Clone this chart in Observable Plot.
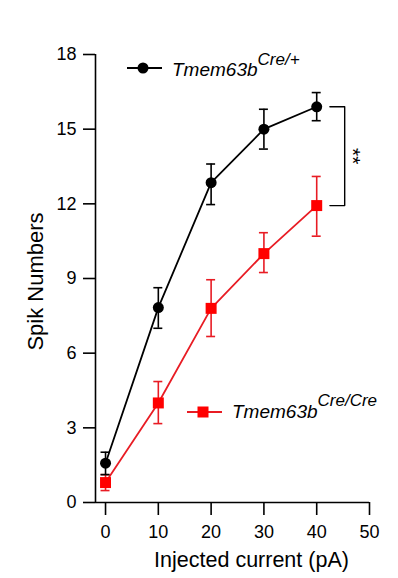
<!DOCTYPE html>
<html>
<head>
<meta charset="utf-8">
<script src="https://cdn.jsdelivr.net/npm/d3@7"></script>
<script src="https://cdn.jsdelivr.net/npm/@observablehq/plot@0.6"></script>
<style>
  html, body { margin: 0; padding: 0; background: white; }
</style>
</head>
<body>
<div id="chart"></div>
<script>
// ---- data ----
const currents = [0, 10, 20, 30, 40];
const ctrlMean  = [1.58, 7.83, 12.85, 15.0, 15.9];
const ctrlUpper = [2.02, 8.63, 13.6, 15.8, 16.47];
const ctrlLower = [1.12, 7.0, 11.97, 14.2, 15.34];
const koMean  = [0.8, 4.0, 7.8, 10.0, 11.93];
const koUpper = [1.12, 4.86, 8.95, 10.84, 13.1];
const koLower = [0.48, 3.17, 6.67, 9.24, 10.7];
const xTicks = [0, 10, 20, 30, 40, 50];
const yTicks = [0, 3, 6, 9, 12, 15, 18];
const xDomain = [-1.9, 50];
const yDomain = [0, 18];
const bracketX = [42.5, 45.3];
const starX = 47.3;
const ctrlName = "Tmem63b", ctrlSup = "Cre/+";
const koName = "Tmem63b", koSup = "Cre/Cre";

const black = "#000000";
const redLine = "#e81c24";
const redFill = "#ff0000";

const ctrl = currents.map((x, i) => ({x, y: ctrlMean[i], lo: ctrlLower[i], hi: ctrlUpper[i]}));
const ko = currents.map((x, i) => ({x, y: koMean[i], lo: koLower[i], hi: koUpper[i]}));
const cap = 0.85;

const last = currents.length - 1;
const bracket = [
  {x: bracketX[0], y: ctrlMean[last]},
  {x: bracketX[1], y: ctrlMean[last]},
  {x: bracketX[1], y: koMean[last]},
  {x: bracketX[0], y: koMean[last]}
];

function legend() {
  const g = d3.create("svg:g").attr("font-family", "Liberation Sans, Arial, sans-serif");
  const items = [
    {x0: 127, y: 68, name: ctrlName, sup: ctrlSup, color: black, fill: black, sym: "circle", tx: 172, base: 76, supBase: 65},
    {x0: 187, y: 412, name: koName, sup: koSup, color: redLine, fill: redFill, sym: "square", tx: 232, base: 418, supBase: 406}
  ];
  for (const it of items) {
    g.append("line").attr("x1", it.x0).attr("x2", it.x0 + 35).attr("y1", it.y).attr("y2", it.y)
      .attr("stroke", it.color).attr("stroke-width", 2);
    if (it.sym === "circle") {
      g.append("circle").attr("cx", it.x0 + 16).attr("cy", it.y).attr("r", 5.5).attr("fill", it.fill);
    } else {
      g.append("rect").attr("x", it.x0 + 16 - 5.5).attr("y", it.y - 5.5).attr("width", 11).attr("height", 11).attr("fill", it.fill);
    }
    const t = g.append("text").attr("x", it.tx).attr("y", it.base).attr("text-anchor", "start")
      .attr("font-style", "italic").attr("font-size", 19).attr("fill", "black");
    t.append("tspan").text(it.name);
    t.append("tspan").attr("dy", it.supBase - it.base).attr("font-size", 17).text(it.sup);
  }
  return g.node();
}

const chart = Plot.plot({
  width: 398,
  height: 578,
  marginLeft: 95,
  marginRight: 29,
  marginTop: 54,
  marginBottom: 76,
  style: {fontFamily: "Liberation Sans, Arial, sans-serif", background: "white", color: "black"},
  x: {domain: xDomain, axis: null},
  y: {domain: yDomain, axis: null},
  marks: [
    Plot.axisY(yTicks, {tickSize: 12, tickPadding: 7, fontSize: 18, label: null, strokeWidth: 1.6}),
    Plot.axisX(xTicks, {tickSize: 13, tickPadding: 10, fontSize: 18, label: null, strokeWidth: 1.6}),
    Plot.ruleX([xDomain[0]], {y1: yDomain[0], y2: yDomain[1], strokeWidth: 1.6}),
    Plot.ruleY([yDomain[0]], {x1: xDomain[0], x2: xTicks[xTicks.length - 1], strokeWidth: 1.6}),
    Plot.text(["Spik Numbers"], {frameAnchor: "left", dx: -60, dy: 3, rotate: -90, fontSize: 22, textAnchor: "middle", lineAnchor: "middle"}),
    Plot.text(["Injected current (pA)"], {frameAnchor: "bottom", dx: 19, dy: 58, fontSize: 21.5, textAnchor: "middle", lineAnchor: "middle"}),
    // significance bracket
    Plot.line(bracket, {x: "x", y: "y", stroke: black, strokeWidth: 1.4}),
    Plot.text(["**"], {x: starX, y: (ctrlMean[last] + koMean[last]) / 2, rotate: 90, fontSize: 21, textAnchor: "middle", lineAnchor: "middle", dx: -3}),
    // knockout series
    Plot.line(ko, {x: "x", y: "y", stroke: redLine, strokeWidth: 1.8}),
    Plot.ruleX(ko, {x: "x", y1: "lo", y2: "hi", stroke: redLine, strokeWidth: 1.6}),
    Plot.ruleY(ko, {y: "hi", x1: d => d.x - cap, x2: d => d.x + cap, stroke: redLine, strokeWidth: 1.6}),
    Plot.ruleY(ko, {y: "lo", x1: d => d.x - cap, x2: d => d.x + cap, stroke: redLine, strokeWidth: 1.6}),
    Plot.dot(ko, {x: "x", y: "y", symbol: "square", r: 6.2, fill: redFill, stroke: "none"}),
    // control series
    Plot.line(ctrl, {x: "x", y: "y", stroke: black, strokeWidth: 1.8}),
    Plot.ruleX(ctrl, {x: "x", y1: "lo", y2: "hi", stroke: black, strokeWidth: 1.6}),
    Plot.ruleY(ctrl, {y: "hi", x1: d => d.x - cap, x2: d => d.x + cap, stroke: black, strokeWidth: 1.6}),
    Plot.ruleY(ctrl, {y: "lo", x1: d => d.x - cap, x2: d => d.x + cap, stroke: black, strokeWidth: 1.6}),
    Plot.dot(ctrl, {x: "x", y: "y", r: 5.5, fill: black, stroke: "none"}),
    legend
  ]
});
document.getElementById("chart").appendChild(chart);
</script>
</body>
</html>
